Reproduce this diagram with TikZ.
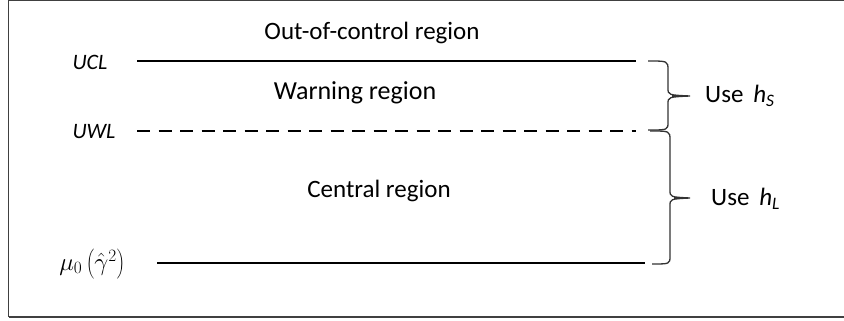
\documentclass[tikz,border=0pt]{standalone}
\usepackage{fontspec}
\setmainfont{Carlito}
\begin{document}
\begin{tikzpicture}[x=1pt,y=-1pt,
  limit/.style={line width=2.8pt, black},
  warnline/.style={line width=2.8pt, black, dash pattern=on 13pt off 8.5pt},
  bracepath/.style={line width=1.3pt, black!80, line join=miter},
  region/.style={font=\fontsize{25}{28}\selectfont, inner sep=0pt},
  lbl/.style={font=\fontsize{22}{24}\selectfont\itshape, inner sep=0pt},
  uselbl/.style={font=\fontsize{25}{28}\selectfont, inner sep=0pt, anchor=west}]
\useasboundingbox (0,0) rectangle (844,321);
\begin{scope}
\clip (0,0) rectangle (844,321);
\draw[line width=1.6pt, black!75] (8.5,317) -- (8.5,0.6) -- (860,0.6);
\draw[line width=2pt, black!75] (8.5,317) -- (860,317);
\end{scope}
% line endpoints
\coordinate (ucl0) at (137,61);  \coordinate (ucl1) at (636,61);
\coordinate (uwl0) at (137,131); \coordinate (uwl1) at (636,131);
\coordinate (mu0)  at (157,263); \coordinate (mu1)  at (645,263);
\draw[limit] (ucl0) -- (ucl1);
\draw[warnline] (uwl0) -- (uwl1);
\draw[limit] (mu0) -- (mu1);
% labels
\node[lbl] (lucl) at (90,62) {UCL};
\node[lbl] (luwl) at (94,132) {UWL};
\node[inner sep=0pt, font=\fontsize{25}{27}\selectfont] (lmu) at (92,264) {$\mu_0\left(\hat{\gamma}^2\right)$};
\node[region] (rout) at (372,33) {Out-of-control region};
\node[region, font=\fontsize{26}{28}\selectfont] (rwarn) at (355,93) {Warning region};
\node[region] (rcen) at (379,191) {Central region};
% braces
\coordinate (b1top) at (648,61);
\coordinate (b1tip) at (690,96);
\coordinate (b1bot) at (648,130);
\draw[bracepath] (b1top) .. controls (668,61) .. (668,70) -- (668,88)
   .. controls (668,95) .. (b1tip) -- (672,96)
   (b1tip) .. controls (668,97) .. (668,104) -- (668,122) .. controls (668,130) .. (b1bot);
\coordinate (b2top) at (650,131);
\coordinate (b2tip) at (690,198);
\coordinate (b2bot) at (652,264);
\draw[bracepath] (b2top) .. controls (670,131) .. (670,140) -- (670,190)
   .. controls (670,197) .. (b2tip) -- (674,198)
   (b2tip) .. controls (670,199) .. (670,206) -- (670,256) .. controls (670,264) .. (b2bot);
\node[uselbl] (us) at (705,96) {Use \,$\mathit{h}_{\mathit{S}}$};
\node[uselbl] (ul) at (711,199) {Use \,$\mathit{h}_{\mathit{L}}$};
\end{tikzpicture}
\end{document}
